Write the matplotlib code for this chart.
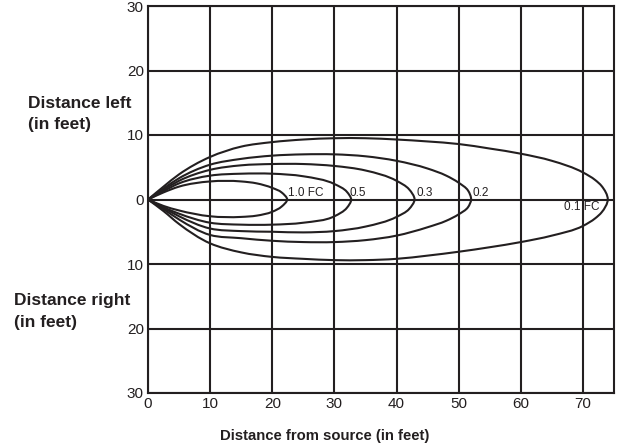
import matplotlib
matplotlib.use("Agg")
import matplotlib.pyplot as plt
from matplotlib.path import Path
from matplotlib.patches import PathPatch
import numpy as np

plt.rcParams['font.family'] = ['Liberation Sans', 'DejaVu Sans']

# Isofootcandle contours: distance from source (ft) and half-widths left (upper) / right (lower)
fc_labels = ["1.0 FC", "0.5", "0.3", "0.2", "0.1 FC"]

x_10 = [0, 2.5, 5, 10, 15, 17.5, 20, 21.5, 22.4]
up_10 = [0, 1.1, 2.0, 2.8, 2.8, 2.5, 1.8, 1.1, 0]
lo_10 = [0, 1.0, 1.7, 2.6, 2.7, 2.5, 1.9, 1.1, 0]

x_05 = [0, 2.5, 5, 10, 15, 20, 25, 30, 32, 32.7]
up_05 = [0, 1.3, 2.5, 3.7, 4.0, 4.0, 3.6, 2.4, 1.2, 0]
lo_05 = [0, 1.2, 2.2, 3.6, 3.9, 3.9, 3.6, 2.6, 1.3, 0]

x_03 = [0, 2.5, 5, 10, 15, 20, 25, 30, 35, 40, 42, 42.9]
up_03 = [0, 1.5, 2.9, 4.6, 5.3, 5.5, 5.5, 5.2, 4.5, 2.9, 1.6, 0]
lo_03 = [0, 1.3, 2.6, 4.5, 4.9, 5.0, 5.1, 4.9, 4.2, 2.7, 1.5, 0]

x_02 = [0, 2.5, 5, 10, 15, 20, 25, 30, 35, 40, 45, 48, 50, 51.5, 52]
up_02 = [0, 1.7, 3.3, 5.4, 6.3, 6.8, 7.0, 7.0, 6.7, 6.0, 4.8, 3.7, 2.6, 1.4, 0]
lo_02 = [0, 1.5, 3.1, 5.5, 6.0, 6.4, 6.6, 6.6, 6.3, 5.6, 4.3, 3.3, 2.3, 1.2, 0]

x_01 = [0, 2.5, 5, 10, 15, 20, 25, 30, 35, 40, 45, 50, 55, 60, 65, 70, 72, 73, 74]
up_01 = [0, 2.0, 3.9, 6.6, 8.2, 8.9, 9.3, 9.5, 9.5, 9.3, 9.0, 8.6, 7.9, 7.1, 6.0, 4.2, 3.0, 2.1, 0]
lo_01 = [0, 1.8, 3.8, 6.8, 8.2, 8.9, 9.2, 9.4, 9.4, 9.2, 8.7, 8.1, 7.4, 6.6, 5.6, 4.1, 2.9, 2.0, 0]

contours = [(x_10, up_10, lo_10), (x_05, up_05, lo_05), (x_03, up_03, lo_03),
            (x_02, up_02, lo_02), (x_01, up_01, lo_01)]

# label positions (data coords)
label_x = [22.5, 32.5, 43.2, 52.2, 72.7]
label_y = [1.0, 1.0, 1.0, 1.0, -1.2]
label_ha = ['left', 'left', 'left', 'left', 'right']

x_ticks = [0, 10, 20, 30, 40, 50, 60, 70]
y_ticks = [-30, -20, -10, 0, 10, 20, 30]
y_ticklabels = ["30", "20", "10", "0", "10", "20", "30"]

INK = '#231f20'

fig = plt.figure(figsize=(6.19, 4.46), dpi=100)
ax = fig.add_axes([148/619, 1-393/446, (614-148)/619, (393-6)/446])
ax.set_xlim(0, 75)
ax.set_ylim(-30, 30)
ax.set_xticks(x_ticks)
ax.set_yticks(y_ticks)
ax.set_yticklabels(y_ticklabels)
ax.tick_params(length=0, labelsize=11, pad=3, colors=INK)
ax.grid(True, color=INK, lw=1.5)
ax.set_axisbelow(True)
for s in ax.spines.values():
    s.set_color(INK)
    s.set_linewidth(1.5)


def smooth_path(xs, ys, transform):
    # chord-length Catmull-Rom spline through the given points, computed in display space
    pts_d = transform.transform(np.column_stack([xs, ys]).astype(float))
    n = len(pts_d)
    d = np.linalg.norm(np.diff(pts_d, axis=0), axis=1)
    t = np.concatenate([[0], np.cumsum(d)])
    tang = np.zeros_like(pts_d)
    for i in range(n):
        if i == 0:
            tang[i] = (pts_d[1] - pts_d[0]) / (t[1] - t[0])
        elif i == n - 1:
            tang[i] = (pts_d[-1] - pts_d[-2]) / (t[-1] - t[-2])
        else:
            h0 = t[i] - t[i - 1]
            h1 = t[i + 1] - t[i]
            s0 = (pts_d[i] - pts_d[i - 1]) / h0
            s1 = (pts_d[i + 1] - pts_d[i]) / h1
            tang[i] = (s0 * h1 + s1 * h0) / (h0 + h1)
    verts = [pts_d[0]]
    codes = [Path.MOVETO]
    for i in range(n - 1):
        h = t[i + 1] - t[i]
        verts += [pts_d[i] + tang[i] * h / 3, pts_d[i + 1] - tang[i + 1] * h / 3, pts_d[i + 1]]
        codes += [Path.CURVE4] * 3
    inv = transform.inverted()
    return Path(inv.transform(np.array(verts)), codes)


fig.canvas.draw()
for (xs, up, lo) in contours:
    px = list(xs) + list(xs[-2::-1])
    py = list(up) + [-v for v in lo[-2::-1]]
    ax.add_patch(PathPatch(smooth_path(px, py, ax.transData), fill=False, ec=INK, lw=1.5,
                           joinstyle='round', zorder=3))

for lab, lx, ly, ha in zip(fc_labels, label_x, label_y, label_ha):
    ax.text(lx, ly, lab, fontsize=8.5, ha=ha, va='center', color=INK, zorder=4)

fig.text(28/619, 1-103/446, "Distance left", fontsize=12.5, fontweight='bold', va='center', ha='left', color=INK)
fig.text(28/619, 1-125/446, "(in feet)", fontsize=12.5, fontweight='bold', va='center', ha='left', color=INK)
fig.text(14/619, 1-300/446, "Distance right", fontsize=12.5, fontweight='bold', va='center', ha='left', color=INK)
fig.text(14/619, 1-322/446, "(in feet)", fontsize=12.5, fontweight='bold', va='center', ha='left', color=INK)
fig.text(325/619, 1-436/446, "Distance from source (in feet)", fontsize=10.7, fontweight='bold',
         va='center', ha='center', color=INK)

fig.savefig("out.png", dpi=100)
